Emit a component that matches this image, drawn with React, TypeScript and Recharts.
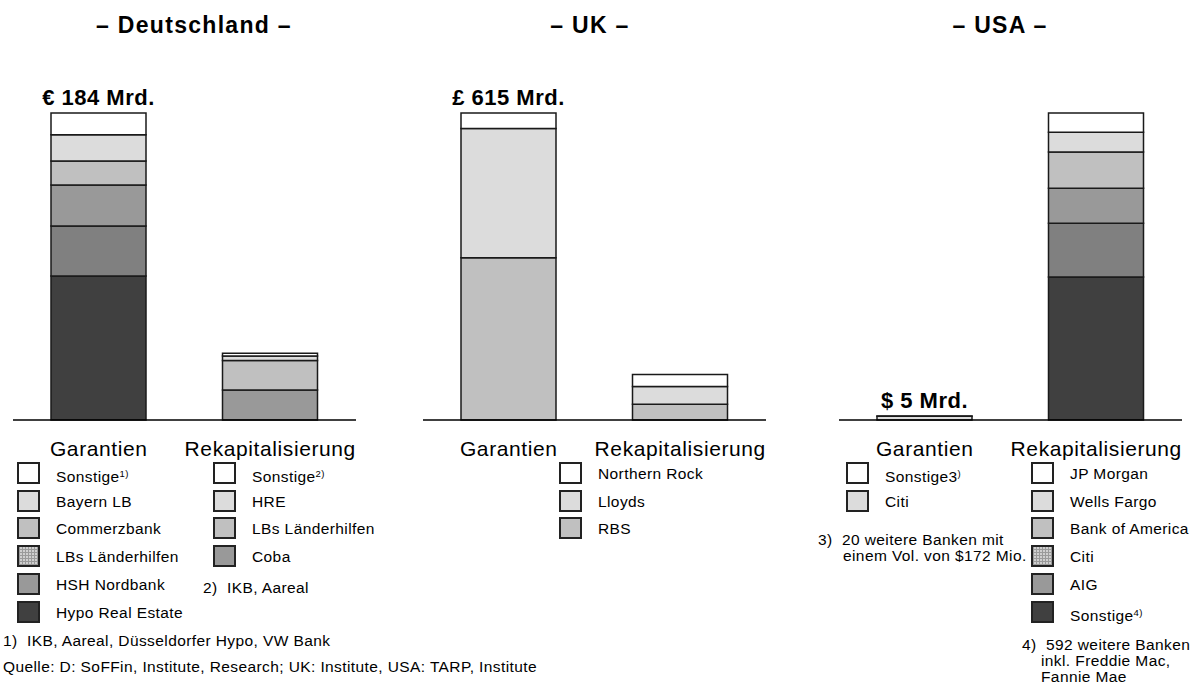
import React from 'react';
import { BarChart, Bar, XAxis, YAxis, LabelList } from 'recharts';

// ---------- data ----------
const categories = ['Garantien', 'Rekapitalisierung'];

// Deutschland (bottom -> top)
const deGarantienNames = ['Hypo Real Estate', 'HSH Nordbank', 'LBs Länderhilfen', 'Commerzbank', 'Bayern LB', 'Sonstige'];
const deGarantienValues = [86.3, 30, 24.6, 14.4, 15.6, 13.1];
const deRekapNames = ['Coba', 'LBs Länderhilfen', 'HRE', 'Sonstige'];
const deRekapValues = [18, 17.6, 2.8, 1.6];
const deTotals = ['€ 184 Mrd.', '€ 40 Mrd.'];

// UK (bottom -> top)
const ukNames = ['RBS', 'Lloyds', 'Northern Rock'];
const ukGarantienValues = [325, 259, 31];
const ukRekapValues = [31.5, 35.5, 24];
const ukTotals = ['£ 615 Mrd.', '£ 91 Mrd.'];

// USA (bottom -> top)
const usGarantienNames = ['Citi', 'Sonstige'];
const usGarantienValues = [4.8, 0.2];
const usRekapNames = ['Sonstige', 'AIG', 'Citi', 'Bank of America', 'Wells Fargo', 'JP Morgan'];
const usRekapValues = [182.5, 68.6, 44.7, 46.4, 25.1, 24.7];
const usTotals = ['$ 5 Mrd.', '$ 392 Mrd.'];

const titles = ['– Deutschland –', '– UK –', '– USA –'];

// ---------- styles ----------
const FONT = '"Liberation Sans", Arial, Helvetica, sans-serif';
const HATCH = 'hatch';
const C = { white: '#ffffff', light: '#dcdcdc', mid: '#c0c0c0', grey: '#999999', dgrey: '#808080', dark: '#404040' };

type PanelProps = {
  left: number;
  gNames: string[];
  gValues: number[];
  gFills: string[];
  rNames: string[];
  rValues: number[];
  rFills: string[];
  totals: string[];
};

const CHART_W = 343;
const CHART_H = 470;

const CatTick = (props: any) => {
  const { x, y, payload } = props;
  return (
    <text x={x} y={y + 36} textAnchor="middle" fontSize={21} fill="#000" fontFamily={FONT} letterSpacing={0.6}>
      {payload.value}
    </text>
  );
};

function Panel(p: PanelProps) {
  const g: any = { cat: categories[0] };
  p.gValues.forEach((v, i) => (g['g' + i] = v));
  const r: any = { cat: categories[1] };
  p.rValues.forEach((v, i) => (r['r' + i] = v));
  const data = [g, r];
  const sumG = p.gValues.reduce((a, b) => a + b, 0);
  const sumR = p.rValues.reduce((a, b) => a + b, 0);
  const max = Math.max(sumG, sumR);

  const makeLabel = (key: string) => (lp: any) => {
    const { x, y, width, index } = lp;
    const row = data[index];
    if (!row || !row[key]) return null;
    return (
      <text
        x={Number(x) + Number(width) / 2}
        y={Number(y) - 8}
        textAnchor="middle"
        fontSize={22}
        fontWeight="bold"
        fill="#000"
        fontFamily={FONT}
        letterSpacing={0.5}
      >
        {p.totals[index]}
      </text>
    );
  };

  const gTop = 'g' + (p.gValues.length - 1);
  const rTop = 'r' + (p.rValues.length - 1);

  return (
    <div style={{ position: 'absolute', left: p.left, top: 0, width: CHART_W, height: CHART_H }}>
      <BarChart
        width={CHART_W}
        height={CHART_H}
        data={data}
        margin={{ top: 113, right: 0, left: 0, bottom: 10 }}
        barSize={95}
      >
        <XAxis
          dataKey="cat"
          height={40}
          tickLine={false}
          tickSize={0}
          tickMargin={0}
          axisLine={{ stroke: '#000', strokeWidth: 1.5 }}
          tick={<CatTick />}
          interval={0}
        />
        <YAxis hide domain={[0, max]} />
        {p.gNames.map((n, i) => (
          <Bar
            key={'g' + i}
            dataKey={'g' + i}
            name={n}
            stackId="s"
            fill={p.gFills[i]}
            stroke="#1a1a1a"
            strokeWidth={1.5}
            isAnimationActive={false}
          >
            {('g' + i) === gTop ? <LabelList dataKey={'g' + i} content={makeLabel('g' + i)} /> : null}
          </Bar>
        ))}
        {p.rNames.map((n, i) => (
          <Bar
            key={'r' + i}
            dataKey={'r' + i}
            name={n}
            stackId="s"
            fill={p.rFills[i]}
            stroke="#1a1a1a"
            strokeWidth={1.5}
            isAnimationActive={false}
          >
            {('r' + i) === rTop ? <LabelList dataKey={'r' + i} content={makeLabel('r' + i)} /> : null}
          </Bar>
        ))}
      </BarChart>
    </div>
  );
}

type LegendItem = { label: string; sup?: string; fill: string };

const ROW_TOPS = [462, 490, 517, 545, 573, 601];

function Swatch({ x, y, fill }: { x: number; y: number; fill: string }) {
  const style: React.CSSProperties = {
    position: 'absolute',
    left: x,
    top: y,
    width: 23,
    height: 22,
    boxSizing: 'border-box',
    border: '2px solid #222',
    background: fill === HATCH ? '#cfcfcf' : fill,
  };
  if (fill === HATCH) {
    style.backgroundImage =
      'repeating-linear-gradient(0deg, #9a9a9a 0px, #9a9a9a 1px, transparent 1px, transparent 3px), repeating-linear-gradient(90deg, #9a9a9a 0px, #9a9a9a 1px, transparent 1px, transparent 3px)';
  }
  return <div style={style} />;
}

function LegendBlock({ x, items }: { x: number; items: LegendItem[] }) {
  return (
    <>
      {items.map((it, i) => (
        <React.Fragment key={i}>
          <Swatch x={x} y={ROW_TOPS[i]} fill={it.fill} />
          <div
            style={{
              position: 'absolute',
              left: x + 39,
              top: ROW_TOPS[i] + 2,
              fontSize: 15.5,
              lineHeight: '20px',
              whiteSpace: 'pre',
              letterSpacing: 0.4,
            }}
          >
            {it.label}
            {it.sup ? <span style={{ fontSize: 9.5, verticalAlign: 5 }}>{it.sup}</span> : null}
          </div>
        </React.Fragment>
      ))}
    </>
  );
}

function Note({ x, yc, text, size = 15.5 }: { x: number; yc: number; text: string; size?: number }) {
  return (
    <div
      style={{
        position: 'absolute',
        left: x,
        top: yc - 9,
        fontSize: size,
        lineHeight: '18px',
        whiteSpace: 'pre',
        letterSpacing: 0.4,
      }}
    >
      {text}
    </div>
  );
}

function Title({ cx, text }: { cx: number; text: string }) {
  return (
    <div
      style={{
        position: 'absolute',
        left: cx - 150,
        width: 300,
        top: 14,
        textAlign: 'center',
        fontSize: 23,
        lineHeight: '23px',
        fontWeight: 'bold',
        letterSpacing: 1.3,
      }}
    >
      {text}
    </div>
  );
}

export default function App() {
  return (
    <div
      style={{
        position: 'absolute',
        left: 0,
        top: 0,
        width: 1199,
        height: 684,
        background: '#fff',
        fontFamily: FONT,
        color: '#000',
        overflow: 'hidden',
      }}
    >
      <Title cx={194} text={titles[0]} />
      <Title cx={590} text={titles[1]} />
      <Title cx={1000} text={titles[2]} />

      <Panel
        left={13}
        gNames={deGarantienNames}
        gValues={deGarantienValues}
        gFills={[C.dark, C.dgrey, C.grey, C.mid, C.light, C.white]}
        rNames={deRekapNames}
        rValues={deRekapValues}
        rFills={[C.grey, C.mid, C.light, C.white]}
        totals={deTotals}
      />
      <Panel
        left={423}
        gNames={ukNames}
        gValues={ukGarantienValues}
        gFills={[C.mid, C.light, C.white]}
        rNames={ukNames}
        rValues={ukRekapValues}
        rFills={[C.mid, C.light, C.white]}
        totals={ukTotals}
      />
      <Panel
        left={839}
        gNames={usGarantienNames}
        gValues={usGarantienValues}
        gFills={[C.light, C.white]}
        rNames={usRekapNames}
        rValues={usRekapValues}
        rFills={[C.dark, C.dgrey, C.grey, C.mid, C.light, C.white]}
        totals={usTotals}
      />

      {/* Deutschland legends */}
      <LegendBlock
        x={17}
        items={[
          { label: 'Sonstige', sup: '1)', fill: C.white },
          { label: 'Bayern LB', fill: C.light },
          { label: 'Commerzbank', fill: C.mid },
          { label: 'LBs Länderhilfen', fill: HATCH },
          { label: 'HSH Nordbank', fill: C.grey },
          { label: 'Hypo Real Estate', fill: C.dark },
        ]}
      />
      <LegendBlock
        x={213}
        items={[
          { label: 'Sonstige', sup: '2)', fill: C.white },
          { label: 'HRE', fill: C.light },
          { label: 'LBs Länderhilfen', fill: C.mid },
          { label: 'Coba', fill: C.grey },
        ]}
      />
      <Note x={203} yc={588} text={'2)  IKB, Aareal'} />
      <Note x={3} yc={641} text={'1)  IKB, Aareal, Düsseldorfer Hypo, VW Bank'} />
      <Note x={3} yc={667} text={'Quelle: D: SoFFin, Institute, Research; UK: Institute, USA: TARP, Institute'} />

      {/* UK legend */}
      <LegendBlock
        x={559}
        items={[
          { label: 'Northern Rock', fill: C.white },
          { label: 'Lloyds', fill: C.light },
          { label: 'RBS', fill: C.mid },
        ]}
      />

      {/* USA legends */}
      <LegendBlock
        x={846}
        items={[
          { label: 'Sonstige3', sup: ')', fill: C.white },
          { label: 'Citi', fill: C.light },
        ]}
      />
      <Note x={818} yc={540} text={'3)  20 weitere Banken mit'} />
      <Note x={843} yc={555.5} text={'einem Vol. von $172 Mio.'} />
      <LegendBlock
        x={1031}
        items={[
          { label: 'JP Morgan', fill: C.white },
          { label: 'Wells Fargo', fill: C.light },
          { label: 'Bank of America', fill: C.mid },
          { label: 'Citi', fill: HATCH },
          { label: 'AIG', fill: C.grey },
          { label: 'Sonstige', sup: '4)', fill: C.dark },
        ]}
      />
      <Note x={1022} yc={645} text={'4)  592 weitere Banken'} />
      <Note x={1041} yc={661} text={'inkl. Freddie Mac,'} />
      <Note x={1041} yc={677} text={'Fannie Mae'} />
    </div>
  );
}
